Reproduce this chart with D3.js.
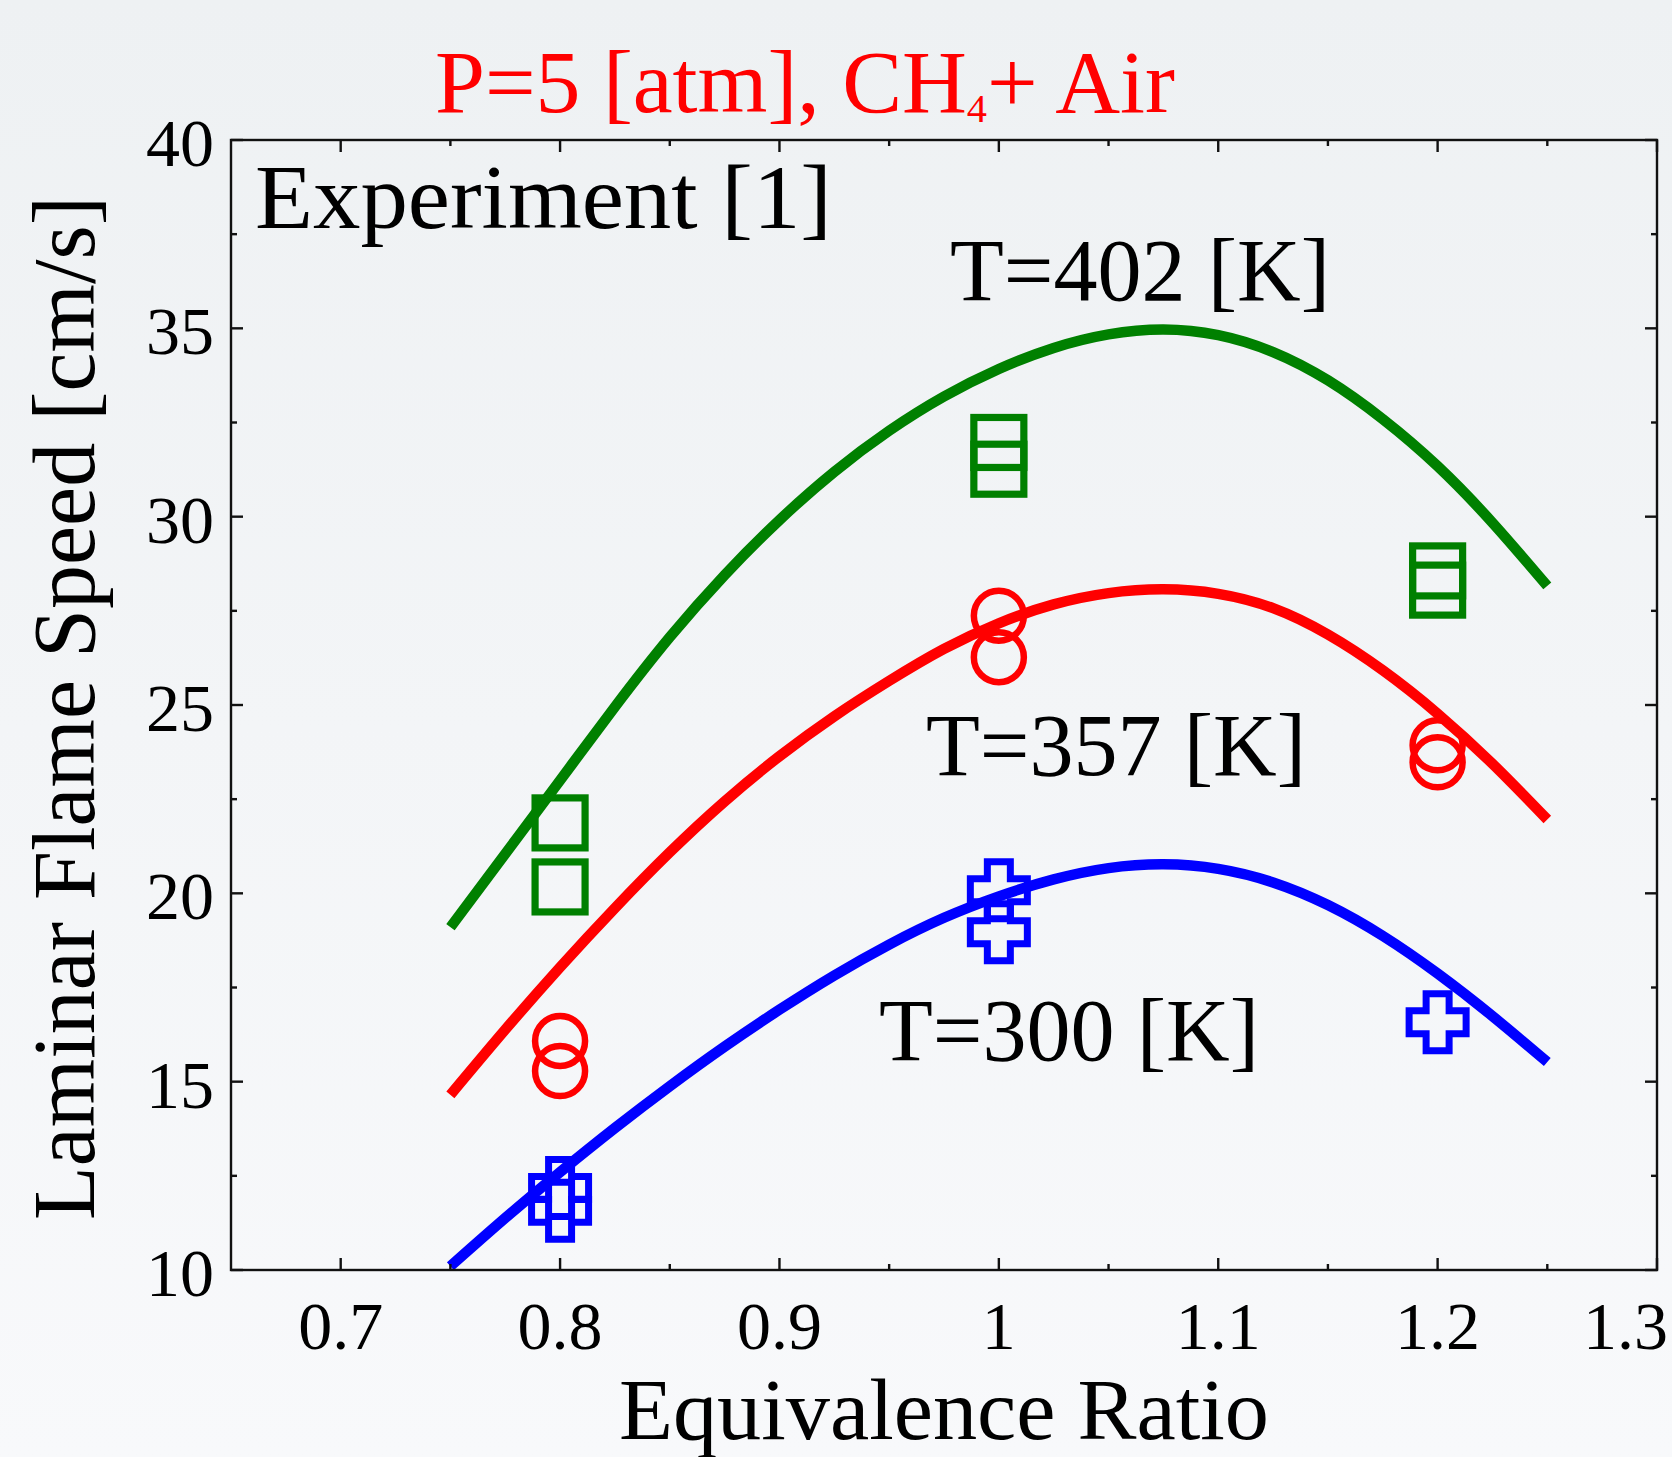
<!DOCTYPE html>
<html>
<head>
<meta charset="utf-8">
<script src="https://cdn.jsdelivr.net/npm/d3@7/dist/d3.min.js"></script>
<style>
html,body{margin:0;padding:0;overflow:hidden;}
svg{display:block;font-family:"Liberation Serif","Times New Roman",serif;}
</style>
</head>
<body>
<svg id="chart" width="1672" height="1457"></svg>
<script>
// ---------------- data ----------------
const phiGrid = [0.75,0.775,0.80,0.825,0.85,0.875,0.90,0.925,0.95,0.975,1.00,1.025,1.05,1.075,1.10,1.125,1.15,1.175,1.20,1.225,1.25];
const sim402 = [19.1,21.05,23.0,24.95,26.8,28.45,29.91,31.19,32.28,33.19,33.92,34.48,34.84,34.97,34.82,34.37,33.62,32.59,31.34,29.84,28.16];
const sim357 = [14.65,16.38,18.04,19.61,21.09,22.44,23.64,24.7,25.64,26.49,27.17,27.67,27.97,28.07,27.95,27.57,26.87,25.92,24.77,23.44,21.96];
const sim300 = [10.1,11.38,12.6,13.77,14.88,15.93,16.91,17.82,18.64,19.35,19.92,20.37,20.67,20.77,20.65,20.29,19.69,18.87,17.87,16.74,15.52];

const expPhi402 = [0.8,0.8,1.0,1.0,1.2,1.2];
const exp402    = [21.87,20.17,31.97,31.26,28.56,28.05];
const expPhi357 = [0.8,0.8,1.0,1.0,1.2,1.2];
const exp357    = [16.08,15.28,27.37,26.27,23.93,23.48];
const expPhi300 = [0.8,0.8,1.0,1.0,1.2];
const exp300    = [12.18,11.57,20.08,18.97,16.58];

const xTicks = [0.7,0.8,0.9,1.0,1.1,1.2,1.3];
const xTickLabels = ["0.7","0.8","0.9","1","1.1","1.2","1.3"];
const yTicks = [10,15,20,25,30,35,40];
const yTickLabels = ["10","15","20","25","30","35","40"];

const seriesLabels = ["T=402 [K]","T=357 [K]","T=300 [K]"];
const titleMain = "P=5 [atm], CH";
const titleSub = "4";
const titleTail = "+ Air";
const expLabel = "Experiment [1]";
const xLabel = "Equivalence Ratio";
const yLabel = "Laminar Flame Speed [cm/s]";

// ---------------- layout ----------------
const W = 1672, H = 1457;
const L = 231, R = 1657, T = 140, B = 1270;
const svg = d3.select("#chart");

const defs = svg.append("defs");
const grad = defs.append("linearGradient").attr("id","bg").attr("x1",0).attr("y1",0).attr("x2",0).attr("y2",1);
grad.append("stop").attr("offset","0%").attr("stop-color","#eef1f3");
grad.append("stop").attr("offset","100%").attr("stop-color","#f8f9fb");
svg.append("rect").attr("width",W).attr("height",H).attr("fill","url(#bg)");

const x = d3.scaleLinear().domain([0.65,1.3]).range([L,R]);
const y = d3.scaleLinear().domain([10,40]).range([B,T]);

function fitX(node, left, width){
  const b = node.getBBox();
  const s = width / b.width;
  node.setAttribute("transform", `translate(${left},0) scale(${s},1) translate(${-b.x},0)`);
}

// ---------------- markers ----------------
const colors = {g:"#008000", r:"#ff0000", b:"#0000ff"};
const gMarks = svg.append("g");

gMarks.selectAll("rect.sq").data(d3.zip(expPhi402, exp402)).join("rect")
  .attr("x", d => x(d[0]) - 25).attr("y", d => y(d[1]) - 25)
  .attr("width",50).attr("height",50)
  .attr("fill","none").attr("stroke",colors.g).attr("stroke-width",7.2);

gMarks.selectAll("circle.ci").data(d3.zip(expPhi357, exp357)).join("circle")
  .attr("cx", d => x(d[0])).attr("cy", d => y(d[1])).attr("r",25)
  .attr("fill","none").attr("stroke",colors.r).attr("stroke-width",6.5);

const a = 28.5, c = 11.5;
const crossPath = `M${-c},${-a}L${c},${-a}L${c},${-c}L${a},${-c}L${a},${c}L${c},${c}L${c},${a}L${-c},${a}L${-c},${c}L${-a},${c}L${-a},${-c}L${-c},${-c}Z`;
gMarks.selectAll("path.cr").data(d3.zip(expPhi300, exp300)).join("path")
  .attr("d", crossPath)
  .attr("transform", d => `translate(${x(d[0])},${y(d[1])})`)
  .attr("fill","none").attr("stroke",colors.b).attr("stroke-width",7);

// ---------------- simulation curves ----------------
const line = d3.line().x(d => x(d[0])).y(d => y(d[1])).curve(d3.curveNatural);
[[sim402,colors.g],[sim357,colors.r],[sim300,colors.b]].forEach(([vals,col]) => {
  svg.append("path").datum(d3.zip(phiGrid, vals))
    .attr("d", line).attr("fill","none").attr("stroke",col)
    .attr("stroke-width",10.5).attr("stroke-linecap","butt").attr("stroke-linejoin","round");
});

// ---------------- axes frame & ticks ----------------
const axisG = svg.append("g").attr("stroke","#111").attr("stroke-width",2.4).attr("fill","none");
axisG.append("rect").attr("x",L).attr("y",T).attr("width",R-L).attr("height",B-T);

const xMinor = d3.range(0.75, 1.3, 0.1);
const yMinor = d3.range(12.5, 40, 5);
const majL = 12, minL = 6;
xTicks.forEach(v => {
  axisG.append("line").attr("x1",x(v)).attr("x2",x(v)).attr("y1",B).attr("y2",B-majL);
  axisG.append("line").attr("x1",x(v)).attr("x2",x(v)).attr("y1",T).attr("y2",T+majL);
});
xMinor.forEach(v => {
  axisG.append("line").attr("x1",x(v)).attr("x2",x(v)).attr("y1",B).attr("y2",B-minL);
  axisG.append("line").attr("x1",x(v)).attr("x2",x(v)).attr("y1",T).attr("y2",T+minL);
});
yTicks.forEach(v => {
  axisG.append("line").attr("x1",L).attr("x2",L+majL).attr("y1",y(v)).attr("y2",y(v));
  axisG.append("line").attr("x1",R).attr("x2",R-majL).attr("y1",y(v)).attr("y2",y(v));
});
yMinor.forEach(v => {
  axisG.append("line").attr("x1",L).attr("x2",L+minL).attr("y1",y(v)).attr("y2",y(v));
  axisG.append("line").attr("x1",R).attr("x2",R-minL).attr("y1",y(v)).attr("y2",y(v));
});

// tick labels
xTicks.forEach((v,i) => {
  const t = svg.append("text").attr("y",1349).attr("font-size",68).attr("fill","#000")
    .attr("text-anchor","middle").attr("x", x(v)).text(xTickLabels[i]);
  const b = t.node().getBBox();
  if (b.x + b.width > W - 4) t.attr("text-anchor","end").attr("x", W - 4);
});
yTicks.forEach((v,i) => {
  svg.append("text").attr("x",214).attr("y",y(v)+26).attr("font-size",68).attr("fill","#000")
    .attr("text-anchor","end").text(yTickLabels[i]);
});

// axis titles
const xl = svg.append("text").attr("y",1439).attr("font-size",86).attr("fill","#000").text(xLabel);
fitX(xl.node(), 619, 650);
svg.append("text").attr("transform","translate(94,708) rotate(-90)")
  .attr("text-anchor","middle").attr("font-size",88).attr("fill","#000").text(yLabel);

// title
const tt = svg.append("text").attr("y",112).attr("font-size",89).attr("fill","#ff0000");
tt.append("tspan").text(titleMain);
tt.append("tspan").attr("font-size",40).attr("dy",10).text(titleSub);
tt.append("tspan").attr("dy",-10).text(titleTail);
fitX(tt.node(), 435, 740);

// annotations
const ex = svg.append("text").attr("y",228).attr("font-size",90).attr("fill","#000").text(expLabel);
fitX(ex.node(), 255, 577);
const labPos = [[950,300],[926,775],[879,1060]];
seriesLabels.forEach((s,i) => {
  const t = svg.append("text").attr("y",labPos[i][1]).attr("font-size",88).attr("fill","#000").text(s);
  fitX(t.node(), labPos[i][0], 380);
});
</script>
</body>
</html>
